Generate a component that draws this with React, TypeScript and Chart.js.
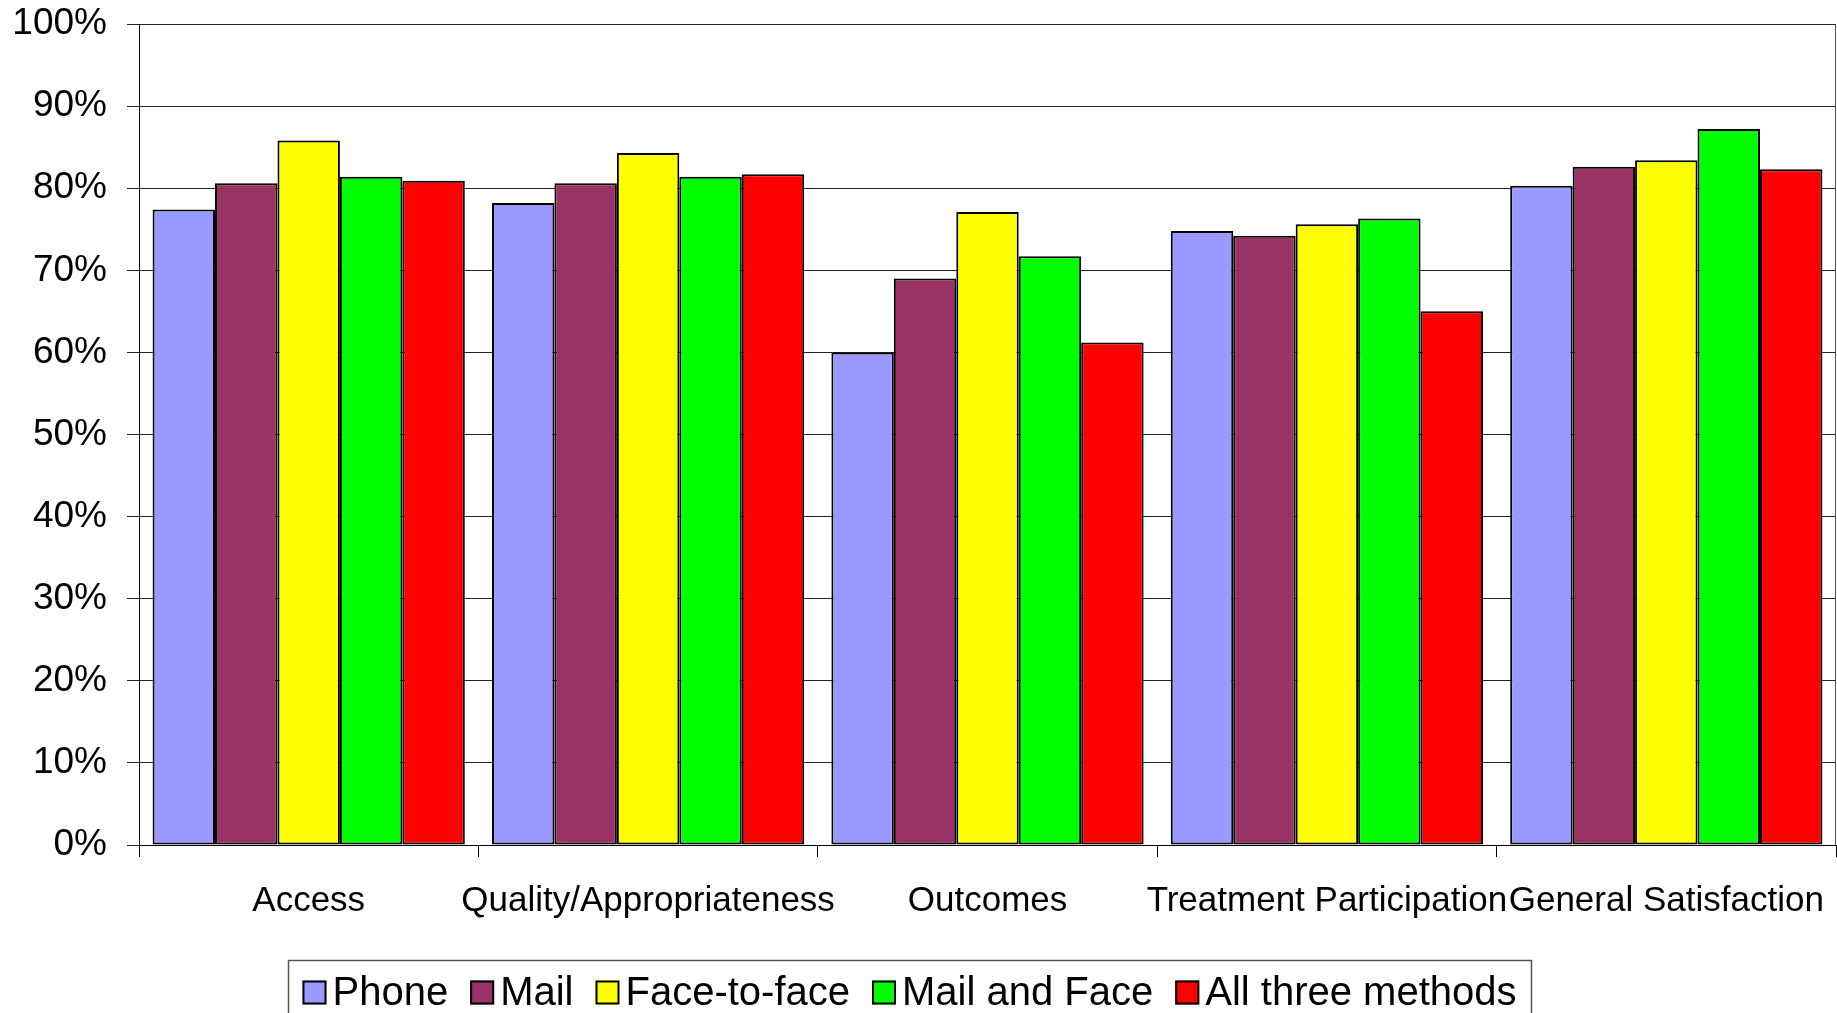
import React, { useEffect, useRef } from 'react';
import { Chart, registerables } from 'chart.js';

Chart.register(...registerables);

const categories = ['Access', 'Quality/Appropriateness', 'Outcomes', 'Treatment Participation', 'General Satisfaction'];
const seriesNames = ['Phone', 'Mail', 'Face-to-face', 'Mail and Face', 'All three methods'];
const phone = [77.4, 78.2, 60.0, 74.8, 80.3];
const mail = [80.6, 80.6, 69.0, 74.2, 82.6];
const faceToFace = [85.8, 84.3, 77.1, 75.6, 83.4];
const mailAndFace = [81.4, 81.4, 71.7, 76.3, 87.2];
const allThree = [80.9, 81.7, 61.2, 65.0, 82.3];
const seriesColors = ['#9999FF', '#993366', '#FFFF00', '#00FF00', '#FF0000'];
const yTicks = [0, 10, 20, 30, 40, 50, 60, 70, 80, 90, 100];

const FONT = '"Liberation Sans", Arial, sans-serif';

export default function App() {
  const ref = useRef<HTMLCanvasElement>(null);

  useEffect(() => {
    document.body.style.margin = '0';
    const canvas = ref.current!;
    const values = [phone, mail, faceToFace, mailAndFace, allThree];

    // Plot-area right border and a boxed legend (built from the chart's datasets)
    const framePlugin = {
      id: 'framePlugin',
      afterDraw(chart: any) {
        const ctx = chart.ctx;
        const ca = chart.chartArea;
        ctx.save();
        ctx.strokeStyle = '#555';
        ctx.lineWidth = 1;
        ctx.beginPath();
        ctx.moveTo(Math.round(ca.right) - 0.5, ca.top);
        ctx.lineTo(Math.round(ca.right) - 0.5, ca.bottom);
        ctx.stroke();

        // legend
        const fontSize = 40;
        const box = 24;
        const boxGap = 6;
        const itemGap = 22;
        ctx.font = `${fontSize}px ${FONT}`;
        const items = chart.data.datasets.map((ds: any) => ({
          text: ds.label as string,
          color: ds.backgroundColor as string,
          w: ctx.measureText(ds.label).width,
        }));
        const span =
          items.reduce((s: number, it: any) => s + box + boxGap + it.w, 0) + itemGap * (items.length - 1);
        const centerX = 909.5;
        let x = centerX - span / 2;
        const boxTop = 980.5;
        const baseline = 1005;
        const frameLeft = Math.round(x - 14) + 0.5;
        const frameRight = Math.round(x + span + 14) + 0.5;
        const frameTop = 960.5;
        ctx.strokeStyle = '#555';
        ctx.lineWidth = 1.5;
        ctx.beginPath();
        ctx.moveTo(frameLeft, chart.height + 10);
        ctx.lineTo(frameLeft, frameTop);
        ctx.lineTo(frameRight, frameTop);
        ctx.lineTo(frameRight, chart.height + 10);
        ctx.stroke();

        ctx.textBaseline = 'alphabetic';
        ctx.textAlign = 'left';
        items.forEach((it: any) => {
          ctx.fillStyle = it.color;
          ctx.fillRect(x, boxTop, box, box);
          ctx.strokeStyle = '#000';
          ctx.lineWidth = 2;
          ctx.strokeRect(x + 1, boxTop + 1, box - 2, box - 2);
          ctx.fillStyle = '#000';
          ctx.fillText(it.text, x + box + boxGap, baseline);
          x += box + boxGap + it.w + itemGap;
        });
        ctx.restore();
      },
    };

    const chart = new Chart(canvas, {
      type: 'bar',
      data: {
        labels: categories,
        datasets: seriesNames.map((name, i) => ({
          label: name,
          data: values[i],
          backgroundColor: seriesColors[i],
          borderColor: '#000',
          borderWidth: 2,
          borderSkipped: false,
          categoryPercentage: 0.92,
          barPercentage: 1.0,
        })),
      },
      options: {
        responsive: false,
        animation: false,
        devicePixelRatio: 1,
        layout: { padding: { top: 24, right: 1, left: 0, bottom: 69 } },
        plugins: {
          tooltip: { enabled: false },
          title: { display: false },
          legend: { display: false },
        },
        scales: {
          x: {
            type: 'category',
            offset: true,
            grid: {
              display: true,
              offset: true,
              drawOnChartArea: false,
              drawTicks: true,
              tickLength: 12,
              color: '#000',
              lineWidth: 1,
            },
            border: { display: true, color: '#000', width: 1 },
            ticks: {
              autoSkip: false,
              maxRotation: 0,
              minRotation: 0,
              padding: 23,
              color: '#000',
              font: { family: FONT, size: 35 },
            },
            afterFit: (scale: any) => {
              scale.height = 99;
              scale.paddingLeft = 0;
              scale.paddingRight = 0;
            },
          },
          y: {
            type: 'linear',
            min: 0,
            max: 100,
            afterBuildTicks: (scale: any) => {
              scale.ticks = yTicks.map((v) => ({ value: v }));
            },
            grid: {
              display: true,
              drawOnChartArea: true,
              drawTicks: true,
              tickLength: 12,
              color: '#222',
              lineWidth: 1,
            },
            border: { display: true, color: '#000', width: 1 },
            ticks: {
              padding: 20,
              color: '#000',
              font: { family: FONT, size: 37 },
              callback: (v: any) => `${v}%`,
            },
            afterFit: (scale: any) => {
              scale.width = 139;
              scale.paddingTop = 0;
              scale.paddingBottom = 0;
            },
          },
        },
      },
      plugins: [framePlugin],
    } as any);

    return () => chart.destroy();
  }, []);

  return (
    <div style={{ width: 1837, height: 1013, overflow: 'hidden' }}>
      <canvas ref={ref} width={1837} height={1013} style={{ display: 'block' }} />
    </div>
  );
}
